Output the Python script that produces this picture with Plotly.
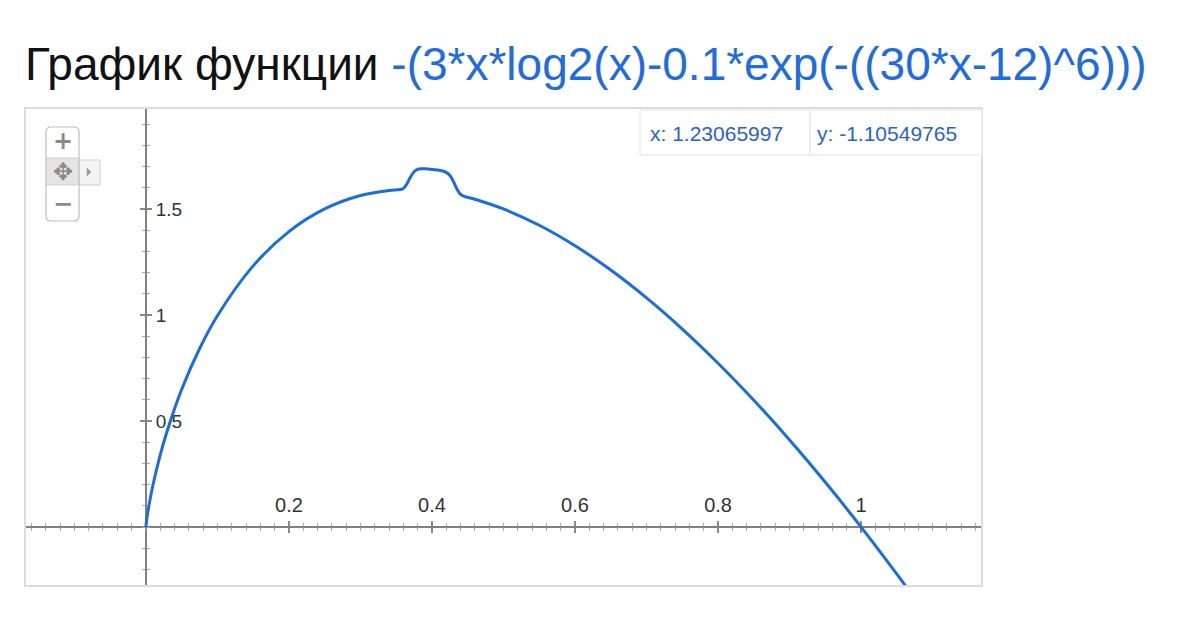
import plotly.graph_objects as go

# ---- data ----
curve_x = [0.0, 0.001, 0.002, 0.003, 0.005, 0.01, 0.02, 0.03, 0.05, 0.075, 0.1, 0.15,
           0.2, 0.25, 0.3, 0.34, 0.355, 0.36, 0.365, 0.37, 0.375, 0.38, 0.385, 0.39,
           0.395, 0.4, 0.405, 0.41, 0.415, 0.42, 0.425, 0.43, 0.435, 0.44, 0.445,
           0.46, 0.5, 0.55, 0.6, 0.65, 0.7, 0.75, 0.8, 0.85, 0.9, 0.95, 1.0, 1.05, 1.07]
curve_y = [0.0, 0.0299, 0.0538, 0.0754, 0.1147, 0.1993, 0.3386, 0.4553, 0.6483, 0.8408,
           0.9966, 1.2316, 1.3932, 1.5, 1.5633, 1.5875, 1.5914, 1.5968, 1.6184, 1.651,
           1.6756, 1.6867, 1.6897, 1.6893, 1.688, 1.6863, 1.6844, 1.6821, 1.6789,
           1.6723, 1.6577, 1.6295, 1.5934, 1.5684, 1.5596, 1.546, 1.5, 1.4231, 1.3266,
           1.2119, 1.0806, 0.9338, 0.7726, 0.5979, 0.4104, 0.2109, 0.0, -0.2217, -0.3133]

x_tickvals = [0.2, 0.4, 0.6, 0.8, 1.0]
x_ticktext = ["0.2", "0.4", "0.6", "0.8", "1"]
y_tickvals = [0.5, 1.0, 1.5]
y_ticktext = ["0.5", "1", "1.5"]

x_range = [-0.169, 1.169]
y_range = [-0.278, 1.976]

title_black = "График функции "
title_blue = "-(3*x*log2(x)-0.1*exp(-((30*x-12)^6)))"
readout_x = "x: 1.23065997"
readout_y = "y: -1.10549765"

# ---- layout geometry ----
W, H = 1200, 628
L, R, T, B = 25, 982, 108, 586
PW, PH = R - L, B - T


def px(xp):
    return (xp - L) / PW


def py(yp):
    return (B - yp) / PH


x_pos = (0 - y_range[0]) / (y_range[1] - y_range[0])
y_pos = (0 - x_range[0]) / (x_range[1] - x_range[0])

AX = "#808080"
TK = "#888888"
BLUE = "#1a6ddf"
FONT = "Liberation Sans, Arial, sans-serif"

fig = go.Figure()
fig.add_trace(go.Scatter(x=curve_x, y=curve_y, mode="lines", line_shape="spline",
                         line=dict(color=BLUE, width=3), hoverinfo="skip",
                         showlegend=False))
fig.add_trace(go.Scatter(x=[None], y=[None], xaxis="x2", yaxis="y2",
                         showlegend=False, hoverinfo="skip"))

common_x = dict(range=x_range, domain=[0, 1], anchor="free", position=x_pos,
                showgrid=False, zeroline=False, showline=True, linecolor=AX,
                linewidth=2, layer="below traces", fixedrange=True,
                tickmode="array", tickvals=x_tickvals, ticklen=5, tickwidth=2,
                tickcolor=TK,
                minor=dict(tickmode="linear", tick0=0, dtick=0.02, ticks="outside",
                           ticklen=3, tickwidth=1, tickcolor="#a8a8a8"))
common_y = dict(range=y_range, domain=[0, 1], anchor="free", position=y_pos,
                showgrid=False, zeroline=False, showline=True, linecolor=AX,
                linewidth=2, layer="below traces", fixedrange=True,
                tickmode="array", tickvals=y_tickvals, ticklen=5, tickwidth=2,
                tickcolor=TK,
                minor=dict(tickmode="linear", tick0=0, dtick=0.1, ticks="outside",
                           ticklen=3, tickwidth=1, tickcolor="#a8a8a8"))

fig.update_layout(
    width=W, height=H,
    margin=dict(l=L, r=W - R, t=T, b=H - B),
    paper_bgcolor="white", plot_bgcolor="white",
    font=dict(family=FONT, color="#333333", size=15),
    xaxis=dict(**common_x, side="top", ticks="outside", ticktext=x_ticktext,
               showticklabels=True, ticklabelstandoff=1,
               tickfont=dict(size=20, color="#333333")),
    xaxis2=dict(**common_x, side="bottom", ticks="outside", overlaying="x",
                showticklabels=False),
    yaxis=dict(**common_y, side="right", ticks="outside", ticktext=y_ticktext,
               showticklabels=True, ticklabelstandoff=0,
               tickfont=dict(size=19, color="#333333")),
    yaxis2=dict(**common_y, side="left", ticks="outside", overlaying="y",
                showticklabels=False),
    title=dict(text=title_black + "<span style='color:#1f6be0'>" + title_blue + "</span>",
               xref="container", yref="container", x=L / W, xanchor="left",
               y=1 - 64 / H, yanchor="middle",
               font=dict(family=FONT, size=46, color="#111111")),
    showlegend=False,
)

shapes = []
# plot frame
shapes.append(dict(type="rect", xref="paper", yref="paper", x0=0, x1=1, y0=0, y1=1,
                   line=dict(color="#dcdcdc", width=2), layer="above"))

# read-out boxes (top right)
for x0, x1 in [(640, 810), (810, R)]:
    shapes.append(dict(type="rect", xref="paper", yref="paper",
                       x0=px(x0), x1=px(x1), y0=py(155), y1=py(110),
                       line=dict(color="#e3e3e3", width=1), fillcolor="white",
                       layer="above"))

# zoom / pan control (top left)
def rr(x0, y0, x1, y1, r):
    X0, X1 = px(x0), px(x1)
    Y0, Y1 = py(y0), py(y1)
    rx, ry = r / PW, r / PH
    return (f"M {X0+rx},{Y0} L {X1-rx},{Y0} Q {X1},{Y0} {X1},{Y0-ry} "
            f"L {X1},{Y1+ry} Q {X1},{Y1} {X1-rx},{Y1} L {X0+rx},{Y1} "
            f"Q {X0},{Y1} {X0},{Y1+ry} L {X0},{Y0-ry} Q {X0},{Y0} {X0+rx},{Y0} Z")

shapes.append(dict(type="rect", xref="paper", yref="paper", x0=px(79), x1=px(100),
                   y0=py(185), y1=py(160), line=dict(color="#cfcfcf", width=1),
                   fillcolor="#f4f4f4", layer="above"))
shapes.append(dict(type="path", xref="paper", yref="paper",
                   path=rr(46, 127, 79, 221, 5), line=dict(color="#bdbdbd", width=1.2),
                   fillcolor="white", layer="above"))
shapes.append(dict(type="rect", xref="paper", yref="paper", x0=px(46.6), x1=px(78.4),
                   y0=py(185), y1=py(158), line=dict(color="#cfcfcf", width=1),
                   fillcolor="#e4e4e4", layer="above"))
shapes.append(dict(type="path", xref="paper", yref="paper",
                   path=f"M {px(87)},{py(168)} L {px(91)},{py(172)} L {px(87)},{py(176)} Z",
                   line=dict(color="#999999", width=0.5), fillcolor="#999999",
                   layer="above"))
fig.update_layout(shapes=shapes)

ann = []
ann.append(dict(text=readout_x, xref="paper", yref="paper", x=px(716), y=py(133),
                xanchor="center", yanchor="middle", showarrow=False,
                font=dict(family=FONT, size=21, color="#2a62cc")))
ann.append(dict(text=readout_y, xref="paper", yref="paper", x=px(887), y=py(133),
                xanchor="center", yanchor="middle", showarrow=False,
                font=dict(family=FONT, size=21, color="#2a62cc")))
ann.append(dict(text="<b>+</b>", xref="paper", yref="paper", x=px(62.5), y=py(141),
                xanchor="center", yanchor="middle", showarrow=False,
                font=dict(family="DejaVu Sans", size=24, color="#8a8a8a")))
ann.append(dict(text="✥", xref="paper", yref="paper", x=px(62.5), y=py(172),
                xanchor="center", yanchor="middle", showarrow=False,
                font=dict(family="DejaVu Sans", size=24, color="#8a8a8a")))
ann.append(dict(text="<b>−</b>", xref="paper", yref="paper", x=px(62.5), y=py(204),
                xanchor="center", yanchor="middle", showarrow=False,
                font=dict(family="DejaVu Sans", size=24, color="#8a8a8a")))
fig.update_layout(annotations=ann)

fig.write_html("out.html", config=dict(displayModeBar=False),
               post_script="document.body.style.margin='0';document.body.style.overflow='hidden';")
